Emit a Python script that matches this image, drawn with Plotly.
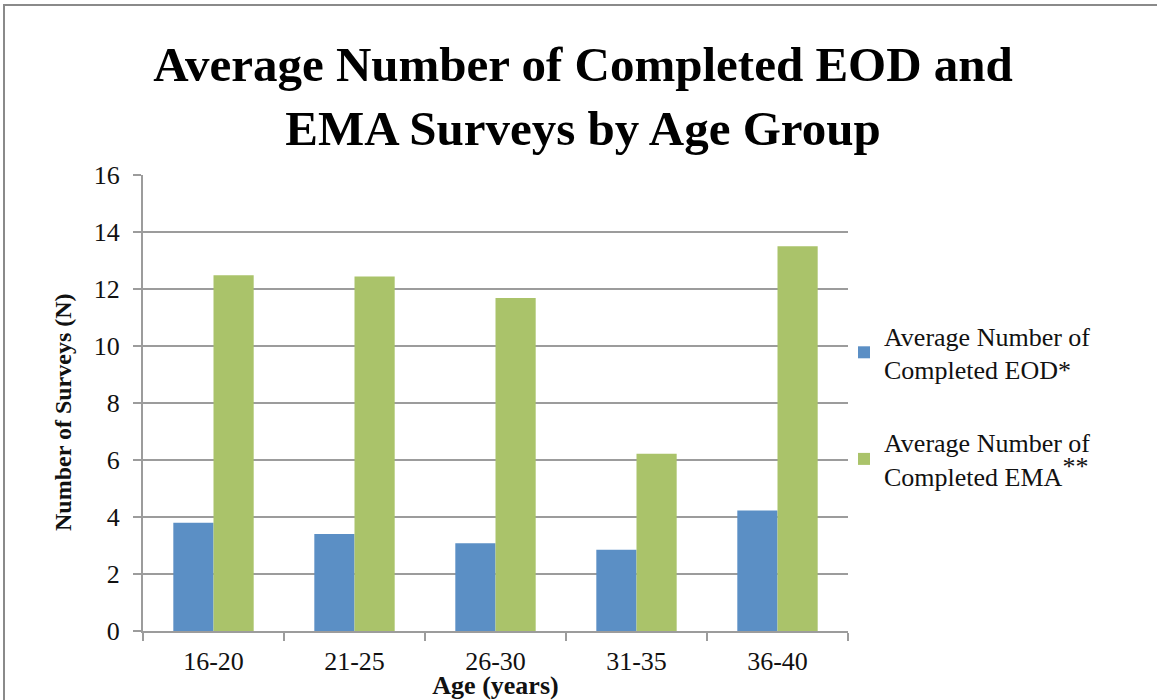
import plotly.graph_objects as go

# Age groups and survey averages
age_groups = ["16-20", "21-25", "26-30", "31-35", "36-40"]
eod_avg = [3.8, 3.4, 3.08, 2.85, 4.23]
ema_avg = [12.48, 12.44, 11.68, 6.22, 13.5]

eod_name = "Average Number of<br>Completed EOD*"
ema_name = ("Average Number of<br>Completed EMA"
            "<sup><span style='font-size:26px'>**</span></sup>")

y_ticks = [0, 2, 4, 6, 8, 10, 12, 14, 16]

SERIF = "Liberation Serif, Times New Roman, serif"
GRID = "#9c9c9c"

# Plot area in pixels (for placing the outer frame and labels)
W, H = 1157, 700
L, R, T, B = 143, 309, 175, 69
pw, ph = W - L - R, H - T - B


def px_x(x):
    return (x - L) / pw


def px_y(y):
    return (H - B - y) / ph


fig = go.Figure()
fig.add_trace(go.Bar(
    x=age_groups, y=eod_avg, name=eod_name,
    marker=dict(color="#5B8FC5", line=dict(width=0)),
    legendgroup="eod",
))
fig.add_trace(go.Bar(
    x=age_groups, y=ema_avg, name=ema_name,
    marker=dict(color="#AAC36A", line=dict(width=0)),
    legendgroup="ema",
))

fig.update_layout(
    width=W, height=H,
    margin=dict(l=L, r=R, t=T, b=B, autoexpand=False),
    paper_bgcolor="white",
    plot_bgcolor="white",
    barmode="group",
    bargap=0.43,
    bargroupgap=0,
    font=dict(family=SERIF, color="#111111", size=26),
    title=dict(
        text="<b>Average Number of Completed EOD and<br>EMA Surveys by Age Group</b>",
        x=583 / W, xanchor="center",
        y=1 - 81 / H, yanchor="top",
        font=dict(family=SERIF, size=49, color="#000000"),
        automargin=False,
    ),
    legend=dict(
        x=px_x(844), xanchor="left",
        y=px_y(312), yanchor="top",
        traceorder="grouped",
        tracegroupgap=36,
        font=dict(family=SERIF, size=26, color="#111111"),
        bgcolor="rgba(0,0,0,0)",
        itemwidth=30,
    ),
    xaxis=dict(
        automargin=False,
        showline=True, linecolor=GRID, linewidth=2,
        ticks="outside", tickson="boundaries", ticklen=8,
        tickcolor=GRID, tickwidth=2,
        ticklabelstandoff=6,
        showgrid=False,
        title=dict(text="<b>Age (years)</b>", font=dict(family=SERIF, size=26),
                   standoff=2),
        tickfont=dict(family=SERIF, size=26),
    ),
    yaxis=dict(
        automargin=False,
        range=[0, 16], tickvals=y_ticks,
        showline=True, linecolor=GRID, linewidth=2,
        ticks="outside", ticklen=8, tickcolor=GRID, tickwidth=2,
        ticklabelstandoff=8,
        showgrid=True, gridcolor=GRID, gridwidth=2,
        zeroline=False,
        tickfont=dict(family=SERIF, size=26),
    ),
    annotations=[dict(
        text="<b>Number of Surveys (N)</b>",
        xref="paper", yref="paper",
        x=px_x(63), y=px_y(412),
        xanchor="center", yanchor="middle",
        textangle=-90, showarrow=False,
        font=dict(family=SERIF, size=24, color="#111111"),
    )],
    shapes=[dict(
        type="rect", xref="paper", yref="paper",
        x0=px_x(4), x1=px_x(1170), y0=px_y(720), y1=px_y(5),
        line=dict(color="#8a8a8a", width=2), fillcolor="rgba(0,0,0,0)",
        layer="below",
    )],
)

fig.write_html("out.html")
